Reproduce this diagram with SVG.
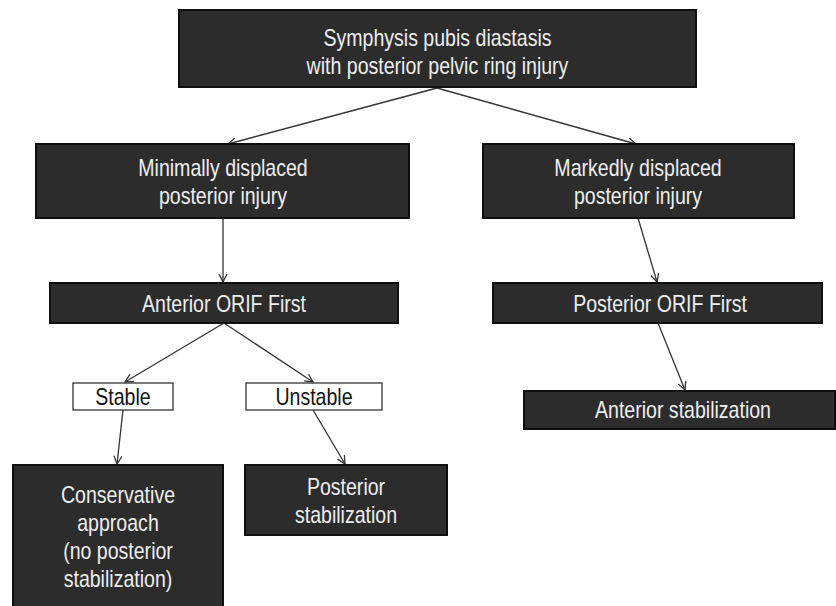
<svg xmlns="http://www.w3.org/2000/svg" width="836" height="606" viewBox="0 0 836 606">
<defs>
<style>
.box{fill:#2c2c2c;stroke:#0f0f0f;stroke-width:2}
.wbox{fill:#ffffff;stroke:#333333;stroke-width:1.3}
.t{font-family:"Liberation Sans",Arial,sans-serif;font-size:24px;fill:#eeeeee;text-anchor:middle}
.tb{font-family:"Liberation Sans",Arial,sans-serif;font-size:24px;fill:#111111;text-anchor:middle}
.c{fill:none;stroke:#333333;stroke-width:1.3}
</style>
<marker id="arr" viewBox="0 0 10 10" refX="9" refY="5" markerWidth="10" markerHeight="10" markerUnits="userSpaceOnUse" orient="auto">
<path d="M1,1 L9,5 L1,9" fill="none" stroke="#333333" stroke-width="1.3"/>
</marker>
</defs>
<rect width="836" height="606" fill="#ffffff"/>
<g id="connectors">
<line class="c" x1="437" y1="88" x2="228" y2="144" marker-end="url(#arr)"/>
<line class="c" x1="437" y1="88" x2="636" y2="144" marker-end="url(#arr)"/>
<line class="c" x1="223" y1="218" x2="223" y2="282" marker-end="url(#arr)"/>
<line class="c" x1="638" y1="218" x2="657" y2="282" marker-end="url(#arr)"/>
<line class="c" x1="224" y1="323" x2="125" y2="382" marker-end="url(#arr)"/>
<line class="c" x1="224" y1="323" x2="313" y2="382" marker-end="url(#arr)"/>
<line class="c" x1="123" y1="410" x2="117" y2="464" marker-end="url(#arr)"/>
<line class="c" x1="313" y1="410" x2="345" y2="464" marker-end="url(#arr)"/>
<line class="c" x1="658" y1="323" x2="685" y2="390" marker-end="url(#arr)"/>
</g>
<g id="n-top">
<rect class="box" x="179" y="10" width="517" height="77"/>
<text class="t" transform="translate(437.5,46) scale(0.815,1)">Symphysis pubis diastasis</text>
<text class="t" transform="translate(437.5,74) scale(0.815,1)">with posterior pelvic ring injury</text>
</g>
<g id="n-minimal">
<rect class="box" x="36" y="144" width="373" height="74"/>
<text class="t" transform="translate(223,176) scale(0.815,1)">Minimally displaced</text>
<text class="t" transform="translate(223,204) scale(0.815,1)">posterior injury</text>
</g>
<g id="n-marked">
<rect class="box" x="483" y="144" width="311" height="74"/>
<text class="t" transform="translate(638,176) scale(0.815,1)">Markedly displaced</text>
<text class="t" transform="translate(638,204) scale(0.815,1)">posterior injury</text>
</g>
<g id="n-antorif">
<rect class="box" x="50" y="283" width="348" height="40"/>
<text class="t" transform="translate(224,311.5) scale(0.815,1)">Anterior ORIF First</text>
</g>
<g id="n-postorif">
<rect class="box" x="493" y="283" width="329" height="40"/>
<text class="t" transform="translate(660,311.5) scale(0.815,1)">Posterior ORIF First</text>
</g>
<g id="n-stable">
<rect class="wbox" x="73" y="383" width="100" height="27"/>
<text class="tb" transform="translate(123,405) scale(0.815,1)">Stable</text>
</g>
<g id="n-unstable">
<rect class="wbox" x="246" y="383" width="136" height="27"/>
<text class="tb" transform="translate(314,405) scale(0.815,1)">Unstable</text>
</g>
<g id="n-antstab">
<rect class="box" x="524" y="391" width="311" height="38"/>
<text class="t" transform="translate(683,417.5) scale(0.815,1)">Anterior stabilization</text>
</g>
<g id="n-conservative">
<rect class="box" x="13" y="465" width="210" height="150"/>
<text class="t" transform="translate(118,503) scale(0.815,1)">Conservative</text>
<text class="t" transform="translate(118,531) scale(0.815,1)">approach</text>
<text class="t" transform="translate(118,559) scale(0.815,1)">(no posterior</text>
<text class="t" transform="translate(118,587) scale(0.815,1)">stabilization)</text>
</g>
<g id="n-poststab">
<rect class="box" x="245" y="465" width="202" height="70"/>
<text class="t" transform="translate(346,495) scale(0.815,1)">Posterior</text>
<text class="t" transform="translate(346,523) scale(0.815,1)">stabilization</text>
</g>
</svg>
